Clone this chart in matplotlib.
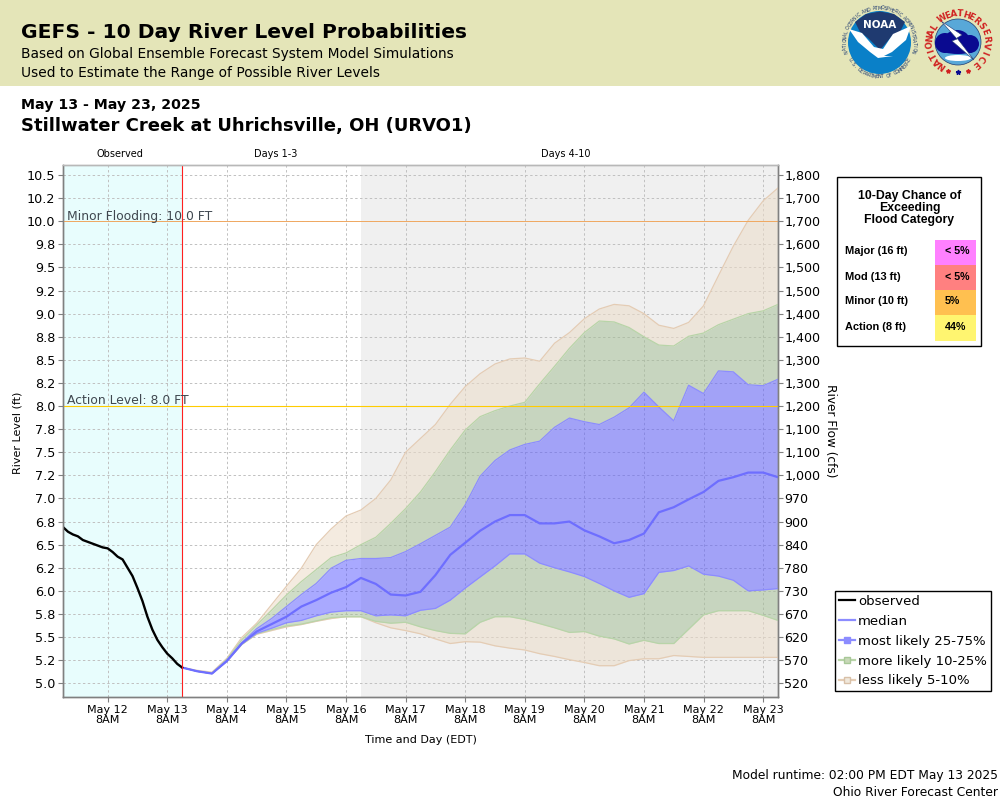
import numpy as np
import matplotlib
matplotlib.use('Agg')
import matplotlib.pyplot as plt
from matplotlib.lines import Line2D
from matplotlib.patches import Circle, Ellipse, Polygon, Rectangle

# hours after May 12 8AM, observed every 2h, forecast every 6h from May 13 2PM
obs_hours = [-18, -16, -14, -12, -10, -8, -6, -4, -2, 0, 2, 4, 6,
             8, 10, 12, 14, 16, 18, 20, 22, 24, 26, 28, 30]
obs = [6.69, 6.64, 6.61, 6.59, 6.55, 6.53, 6.51, 6.49, 6.47, 6.46, 6.42, 6.37, 6.34,
       6.25, 6.16, 6.03, 5.89, 5.72, 5.58, 5.47, 5.39, 5.32, 5.27, 5.21, 5.17]

fc_hours = [30, 36, 42, 48, 54, 60, 66, 72, 78, 84, 90, 96, 102, 108, 114, 120, 126, 132, 138, 144,
            150, 156, 162, 168, 174, 180, 186, 192, 198, 204, 210, 216, 222, 228, 234, 240,
            246, 252, 258, 264, 270]
median = [5.17, 5.13, 5.105, 5.24, 5.43, 5.56, 5.64, 5.72, 5.83, 5.90, 5.98, 6.04, 6.14, 6.075, 5.96, 5.95, 5.99, 6.17, 6.39, 6.52,
          6.65, 6.75, 6.82, 6.82, 6.73, 6.73, 6.75, 6.655, 6.59, 6.515, 6.55, 6.62, 6.85, 6.905, 6.99, 7.07,
          7.19, 7.23, 7.28, 7.28, 7.23]
p25 = [5.17, 5.13, 5.105, 5.24, 5.425, 5.54, 5.595, 5.655, 5.68, 5.73, 5.77, 5.785, 5.785, 5.73, 5.74, 5.73, 5.79, 5.81, 5.90, 6.03,
       6.15, 6.27, 6.40, 6.40, 6.30, 6.25, 6.205, 6.155, 6.08, 6.00, 5.93, 5.97, 6.20, 6.22, 6.27, 6.18,
       6.16, 6.115, 6.00, 6.01, 6.025]
p75 = [5.17, 5.13, 5.105, 5.25, 5.44, 5.59, 5.70, 5.83, 5.96, 6.08, 6.245, 6.33, 6.35, 6.35, 6.36, 6.425, 6.51, 6.60, 6.69, 6.93,
       7.24, 7.41, 7.525, 7.585, 7.62, 7.77, 7.87, 7.83, 7.80, 7.88, 7.98, 8.15, 7.99, 7.84, 8.225, 8.135,
       8.38, 8.37, 8.23, 8.22, 8.29]
p10 = [5.17, 5.13, 5.105, 5.24, 5.42, 5.535, 5.58, 5.62, 5.64, 5.675, 5.71, 5.72, 5.72, 5.67, 5.65, 5.66, 5.61, 5.57, 5.54, 5.535,
       5.66, 5.72, 5.72, 5.69, 5.645, 5.60, 5.55, 5.56, 5.51, 5.48, 5.425, 5.465, 5.43, 5.43, 5.585, 5.74,
       5.785, 5.785, 5.785, 5.735, 5.68]
p90 = [5.17, 5.13, 5.11, 5.26, 5.47, 5.63, 5.79, 5.955, 6.10, 6.23, 6.36, 6.41, 6.50, 6.58, 6.73, 6.89, 7.07, 7.29, 7.525, 7.74,
       7.885, 7.95, 8.0, 8.04, 8.24, 8.43, 8.625, 8.795, 8.92, 8.91, 8.85, 8.75, 8.66, 8.65, 8.755, 8.79,
       8.88, 8.94, 9.0, 9.03, 9.10]
p5 = [5.17, 5.13, 5.105, 5.24, 5.42, 5.53, 5.57, 5.61, 5.635, 5.67, 5.70, 5.72, 5.72, 5.655, 5.60, 5.57, 5.535, 5.48, 5.43, 5.45,
      5.445, 5.405, 5.38, 5.36, 5.32, 5.29, 5.255, 5.225, 5.19, 5.19, 5.245, 5.265, 5.265, 5.30, 5.29, 5.28,
      5.28, 5.28, 5.28, 5.28, 5.28]
p95 = [5.17, 5.14, 5.12, 5.27, 5.495, 5.65, 5.85, 6.05, 6.245, 6.50, 6.67, 6.81, 6.875, 7.0, 7.2, 7.50, 7.65, 7.80, 8.02, 8.21,
       8.35, 8.455, 8.51, 8.52, 8.485, 8.68, 8.795, 8.945, 9.05, 9.10, 9.085, 9.0, 8.875, 8.84, 8.905, 9.085,
       9.41, 9.73, 10.01, 10.22, 10.36]

stage_ticks = [5.0, 5.25, 5.5, 5.75, 6.0, 6.25, 6.5, 6.75, 7.0, 7.25, 7.5, 7.75,
               8.0, 8.25, 8.5, 8.75, 9.0, 9.25, 9.5, 9.75, 10.0, 10.25, 10.5]
stage_labels = ['5.0', '5.2', '5.5', '5.8', '6.0', '6.2', '6.5', '6.8', '7.0', '7.2', '7.5', '7.8',
                '8.0', '8.2', '8.5', '8.8', '9.0', '9.2', '9.5', '9.8', '10.0', '10.2', '10.5']
flow_labels = ['520', '570', '620', '670', '730', '780', '840', '900', '970', '1,000', '1,100', '1,100',
               '1,200', '1,300', '1,300', '1,400', '1,400', '1,500', '1,500', '1,600', '1,700', '1,700', '1,800']
day_ticks = [0, 24, 48, 72, 96, 120, 144, 168, 192, 216, 240, 264]
day_labels = ['May 12\n8AM', 'May 13\n8AM', 'May 14\n8AM', 'May 15\n8AM', 'May 16\n8AM', 'May 17\n8AM',
              'May 18\n8AM', 'May 19\n8AM', 'May 20\n8AM', 'May 21\n8AM', 'May 22\n8AM', 'May 23\n8AM']

flood_cats = ['Major (16 ft)', 'Mod (13 ft)', 'Minor (10 ft)', 'Action (8 ft)']
flood_chance = ['< 5%', '< 5%', '5%', '44%']
flood_colors = ['#ff80ff', '#ff8080', '#ffc050', '#fff570']

BLUE = '#5555ff'
GREEN = '#a0bc90'
TAN = '#ecdcc8'
SANS = 'DejaVu Sans'
NAVY = '#1f3a70'
RED = '#d02020'


def ring_text(ax, s, cx, cy, r, start, end, top=True, **kw):
    # letters round a circle, angles in degrees, y axis points down
    for ch, a in zip(s, np.linspace(start, end, len(s))):
        t = np.radians(a)
        rot = -a - 90 if top else -a + 90
        ax.text(cx + r * np.cos(t), cy + r * np.sin(t), ch, rotation=rot, ha='center', va='center', **kw)


def draw_logos(pix):
    # NOAA
    cx, cy = 879.5, 42.5
    pix.add_patch(Circle((cx, cy), 31.5, fc='#0a80c8', ec='none'))
    pix.add_patch(Polygon([(855, 22), (866, 14), (880, 11.5), (894, 14), (905, 22), (900, 32), (892, 36), (880, 50), (868, 38), (860, 32)],
                          fc=NAVY, ec='none'))
    pix.add_patch(Polygon([(849, 29), (862, 33), (874, 47), (883, 49), (893, 34), (911, 26), (906, 40), (892, 52),
                           (884, 56), (893, 56), (878, 58), (870, 52), (858, 42)], fc='white', ec='none'))
    pix.text(cx, 25, 'NOAA', color='white', fontsize=7.5, fontweight='bold', ha='center', va='center', family=SANS)
    ring_text(pix, 'NATIONAL OCEANIC AND ATMOSPHERIC ADMINISTRATION', cx, cy, 34.5, 165, 375,
              color=NAVY, fontsize=3.4, family=SANS)
    ring_text(pix, 'U.S. DEPARTMENT OF COMMERCE', cx, cy, 34.5, 150, 30, top=False,
              color=NAVY, fontsize=3.4, family=SANS)
    # NWS
    cx, cy = 958, 42
    pix.add_patch(Circle((cx, cy), 23, fc='#58a8d8', ec=NAVY, lw=0.5))
    for ex, ey, ew, eh in [(945, 43, 20, 20), (957, 41, 26, 22), (970, 44, 18, 18), (958, 49, 36, 10)]:
        pix.add_patch(Ellipse((ex, ey), ew, eh, fc='#0a0a90', ec='none'))
    pix.add_patch(Ellipse((958, 58), 26, 6, fc='white', ec='none'))
    pix.add_patch(Polygon([(941, 21), (962, 35), (957, 38), (974, 60), (952, 41), (957, 39)], fc='white', ec=NAVY, lw=0.4))
    ring_text(pix, 'NATIONAL', cx, cy, 28, 125, 212, color=RED, fontsize=6.2, fontweight='bold', family=SANS)
    ring_text(pix, 'WEATHER', cx, cy, 28, 237, 311, color=RED, fontsize=6.2, fontweight='bold', family=SANS)
    ring_text(pix, 'SERVICE', cx, cy, 28, 325, 410, color=RED, fontsize=6.2, fontweight='bold', family=SANS)
    pix.plot([948, 968], [71, 71], ls='none', marker='*', ms=3, color=RED)
    pix.plot([958], [72], ls='none', marker='*', ms=3.5, color='#0a0a90')


def draw_flood_table(pix):
    pix.add_patch(Rectangle((836.5, 176.5), 144, 169, fc='white', ec='black', lw=1.0))
    pix.text(909.5, 208, '10-Day Chance of\nExceeding\nFlood Category', family='Liberation Sans', fontweight='bold',
             fontsize=8.8, ha='center', va='center', linespacing=1.05)
    for i in range(4):
        top = 240 + 25 * i
        pix.add_patch(Rectangle((935, top), 41, 25 + (i == 3), fc=flood_colors[i], ec='none'))
        pix.text(845, top + 11.5, flood_cats[i], family='Liberation Sans', fontweight='bold', fontsize=7.9, va='center')
        pix.text(945, top + 11.5, flood_chance[i], family='Liberation Sans', fontweight='bold', fontsize=7.7, va='center')


fig = plt.figure(figsize=(10, 8), dpi=100, facecolor='white')
ax = fig.add_axes([63 / 1000, 1 - 697.3 / 800, 715 / 1000, 532.8 / 800])
ax.set_xlim(-18, 270)
ax.set_ylim(4.848, 10.614)
ax.set_facecolor('white')

ax.axvspan(-18, 30, color='#e8fdfd', lw=0, zorder=0)
ax.axvspan(102, 270, color='#f0f0f0', lw=0, zorder=0)
ax.set_xticks(day_ticks)
ax.set_xticklabels(day_labels, fontsize=8.0, linespacing=1.0)
ax.set_yticks(stage_ticks)
ax.set_yticklabels(stage_labels, fontsize=9.2)
ax.grid(True, color='#c0c0c0', ls=(0, (2.5, 2.5)), lw=0.7, zorder=1)
ax.set_axisbelow(True)
ax.tick_params(axis='x', length=3.5, color='#808080', pad=2)
ax.tick_params(axis='y', length=3.5, color='#808080', pad=2)

ax.fill_between(fc_hours, p5, p10, color=TAN, alpha=0.55, lw=0, zorder=2)
ax.fill_between(fc_hours, p90, p95, color=TAN, alpha=0.55, lw=0, zorder=2)
ax.fill_between(fc_hours, p10, p25, color=GREEN, alpha=0.5, lw=0, zorder=2)
ax.fill_between(fc_hours, p75, p90, color=GREEN, alpha=0.5, lw=0, zorder=2)
ax.fill_between(fc_hours, p25, p75, color=BLUE, alpha=0.5, lw=0, zorder=2)
for s in (p5, p95):
    ax.plot(fc_hours, s, color='#e4ccb4', lw=0.9, zorder=3)
for s in (p10, p90):
    ax.plot(fc_hours, s, color='#b8d4a8', lw=0.9, zorder=3)
for s in (p25, p75):
    ax.plot(fc_hours, s, color='#8c8cff', lw=0.9, zorder=3)
ax.plot(fc_hours, median, color='#6e6eff', lw=1.6, zorder=4)
ax.plot(obs_hours, obs, color='black', lw=1.7, zorder=5)

ax.axhline(10.0, color='#f0a860', lw=0.7, zorder=3)
ax.axhline(8.0, color='#ffcc00', lw=0.8, zorder=3)
ax.axvline(30, color='#ff2020', lw=0.8, zorder=6)
ax.annotate('Minor Flooding: 10.0 FT', (-18, 10.0), xytext=(3, -1), textcoords='offset points',
            fontsize=8.9, color='#404850', va='bottom', zorder=7)
ax.annotate('Action Level: 8.0 FT', (-18, 8.0), xytext=(3, -1), textcoords='offset points',
            fontsize=8.9, color='#404850', va='bottom', zorder=7)

ax2 = ax.twinx()
ax2.set_ylim(ax.get_ylim())
ax2.set_yticks(stage_ticks)
ax2.set_yticklabels(flow_labels, fontsize=9.1)
ax2.tick_params(axis='y', length=3.5, color='#808080', pad=1)
for a in (ax, ax2):
    for side, col in [('left', '#808080'), ('bottom', '#808080'), ('right', '#808080'), ('top', '#b8b8b8')]:
        a.spines[side].set_color(col)
        a.spines[side].set_linewidth(1.0)

# overlay in pixel coordinates for everything around the plot
pix = fig.add_axes([0, 0, 1, 1], zorder=10)
pix.set_xlim(0, 1000)
pix.set_ylim(800, 0)
pix.axis('off')
pix.patch.set_alpha(0)
pix.add_patch(Rectangle((0, 0), 1000, 85.5, fc='#e4e5b8', ec='none'))
pix.text(21, 33, 'GEFS - 10 Day River Level Probabilities', fontsize=14.6, fontweight='bold', va='center')
pix.text(21, 54, 'Based on Global Ensemble Forecast System Model Simulations', fontsize=9.9, va='center')
pix.text(21, 73, 'Used to Estimate the Range of Possible River Levels', fontsize=9.9, va='center')
pix.text(21, 105, 'May 13 - May 23, 2025', fontsize=10.2, fontweight='bold', va='center')
pix.text(21, 126, 'Stillwater Creek at Uhrichsville, OH (URVO1)', fontsize=13.0, fontweight='bold', va='center')
pix.text(120, 154, 'Observed', fontsize=7.0, ha='center', va='center')
pix.text(276, 154, 'Days 1-3', fontsize=7.0, ha='center', va='center')
pix.text(566, 154, 'Days 4-10', fontsize=7.0, ha='center', va='center')
pix.text(18, 433, 'River Level (ft)', fontsize=8.0, rotation=90, ha='center', va='center')
pix.text(831, 431, 'River Flow (cfs)', fontsize=8.7, rotation=270, ha='center', va='center')
pix.text(421, 740, 'Time and Day (EDT)', fontsize=8.0, ha='center', va='center')
pix.text(998, 775, 'Model runtime: 02:00 PM EDT May 13 2025', fontsize=8.8, ha='right', va='center')
pix.text(998, 792, 'Ohio River Forecast Center', fontsize=8.8, ha='right', va='center')
draw_logos(pix)
draw_flood_table(pix)

handles = [
    Line2D([], [], color='black', lw=1.6),
    Line2D([], [], color='#8c8cff', lw=1.6),
    Line2D([], [], color='#8c8cff', lw=1.6, marker='s', ms=5, mfc='#8c8cff', mec='#8c8cff'),
    Line2D([], [], color='#b8d4a8', lw=1.6, marker='s', ms=5, mfc='#c8d8b8', mec='#a8c898'),
    Line2D([], [], color='#e4ccb4', lw=1.6, marker='s', ms=5, mfc='#f0e8dc', mec='#d8c0a8'),
]
leg = pix.legend(handles, ['observed', 'median', 'most likely 25-75%', 'more likely 10-25%', 'less likely 5-10%'],
                 loc='upper left', bbox_to_anchor=(835 / 1000, 1 - 591 / 800), bbox_transform=fig.transFigure,
                 fontsize=9.5, frameon=True, fancybox=False, edgecolor='black', framealpha=1,
                 borderpad=0.3, borderaxespad=0, labelspacing=0.52, handlelength=1.25, handletextpad=0.2)
leg.get_frame().set_linewidth(1.0)

fig.savefig('out.png', dpi=100)
